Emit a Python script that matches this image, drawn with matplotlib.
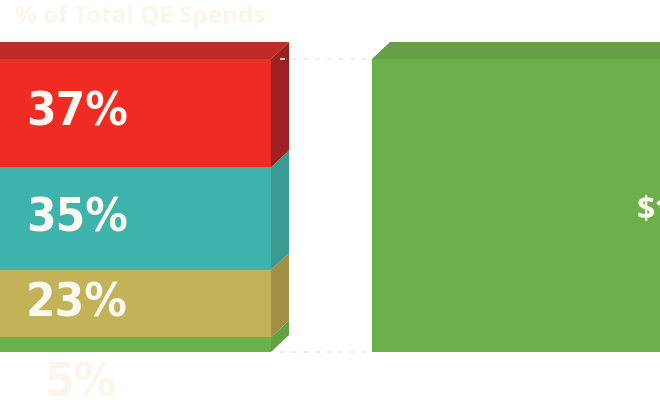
import matplotlib
matplotlib.use("Agg")
import matplotlib.pyplot as plt
from matplotlib import font_manager
from matplotlib.patches import Polygon

# share of total QE spends, bottom to top
segments = ["green", "olive", "teal", "red"]
shares = [5, 23, 35, 37]
front_colors = ["#6db04b", "#c2b258", "#3eb3ac", "#ef2b24"]
side_colors = ["#62a043", "#a08f45", "#3a9a94", "#9f2022"]
top_color = "#bf2a27"

total_label = "$1"
total_share = 100
box_front = "#6db04b"
box_top = "#64a045"

title = "% of Total QE Spends"
cream = "#fdf9f0"
faint = "#fcf6ea"

names = sorted({f.name + " | " + str(f.stretch) for f in font_manager.fontManager.ttflist
                if "Sans" in f.name or "Condensed" in f.name})
print(names)

fig = plt.figure(figsize=(6.6, 4.13), dpi=100)
ax = fig.add_axes([0, 0, 1, 1])
px = 2.93  # pixels per percent point
ax.set_xlim(0, 660)
ax.set_ylim(-(413 - 352) / px, 100 + 59 / px)
ax.axis("off")

# depth of the 3d look
dx, dy = 18, 17 / px

# stacked bar on the left
left, right = -80, 271
bottoms = []
b = 0
for s in shares:
    bottoms.append(b)
    b += s
ax.bar([(left + right) / 2] * len(shares), shares, width=right - left,
       bottom=bottoms, color=front_colors, linewidth=0, zorder=2)
for s, b0, c in zip(shares, bottoms, side_colors):
    ax.add_patch(Polygon([(right, b0), (right + dx, b0 + dy),
                          (right + dx, b0 + s + dy), (right, b0 + s)],
                         closed=True, color=c, lw=0, zorder=2))
top = sum(shares)
ax.add_patch(Polygon([(left, top), (right, top), (right + dx, top + dy),
                      (left + dx, top + dy)], closed=True, color=top_color,
                     lw=0, zorder=2))

# percentage labels
for s, b0 in zip(shares[1:], bottoms[1:]):
    ax.text(26, b0 + s / 2, f"{s}%", color=cream, fontsize=34,
            family="DejaVu Sans", fontstretch="condensed", fontweight="bold",
            ha="left", va="center", zorder=4)
ax.text(45, -11, f"{shares[0]}%", color=faint, fontsize=34,
        family="DejaVu Sans", fontstretch="condensed", fontweight="bold",
        ha="left", va="center", zorder=4)

# total box on the right
bl, br = 372, 760
ax.bar([(bl + br) / 2], [total_share], width=br - bl, color=box_front,
       linewidth=0, zorder=2)
ax.add_patch(Polygon([(bl, total_share), (br, total_share),
                      (br + dx, total_share + dy), (bl + dx, total_share + dy)],
                     closed=True, color=box_top, lw=0, zorder=2))
ax.text(637, total_share / 2 - 2, total_label, color=cream, fontsize=23,
        family="Open Sans", fontweight="bold", ha="left", va="center", zorder=4)

# dotted guides between the two
for yv in (0, top):
    ax.plot([280, bl], [yv, yv], color="#f3ecdc", lw=1.2,
            linestyle=(0, (3, 4)), zorder=3)

ax.text(15, 100 + 59 / px - 17 / px, title, color=faint, fontsize=17.5,
        family="Open Sans", fontweight="bold", ha="left", va="center")

fig.savefig("out.png", dpi=100)
